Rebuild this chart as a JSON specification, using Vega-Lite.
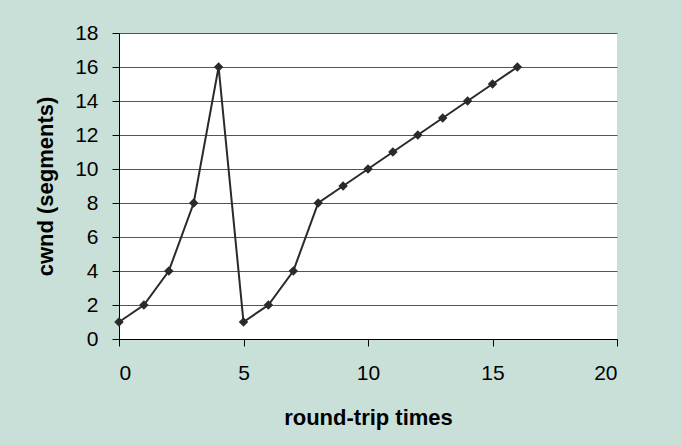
{
  "$schema": "https://vega.github.io/schema/vega-lite/v6.json",
  "width": 498,
  "height": 306,
  "autosize": {"type": "none"},
  "padding": {"left": 119, "top": 33, "right": 64, "bottom": 106},
  "background": "#c9e0d9",
  "config": {
    "view": {"stroke": null, "fill": "white"},
    "font": "Liberation Sans",
    "axis": {
      "labelFont": "Liberation Sans",
      "titleFont": "Liberation Sans",
      "labelFontSize": 21,
      "labelColor": "#000",
      "titleFontSize": 22,
      "titleFontWeight": "bold",
      "titleColor": "#000",
      "domainColor": "#000",
      "tickColor": "#000",
      "tickSize": 7,
      "gridColor": "#555",
      "gridOpacity": 1
    }
  },
  "data": {
    "values": [
      {"t": 0, "cwnd": 1}, {"t": 1, "cwnd": 2}, {"t": 2, "cwnd": 4}, {"t": 3, "cwnd": 8},
      {"t": 4, "cwnd": 16}, {"t": 5, "cwnd": 1}, {"t": 6, "cwnd": 2}, {"t": 7, "cwnd": 4},
      {"t": 8, "cwnd": 8}, {"t": 9, "cwnd": 9}, {"t": 10, "cwnd": 10}, {"t": 11, "cwnd": 11},
      {"t": 12, "cwnd": 12}, {"t": 13, "cwnd": 13}, {"t": 14, "cwnd": 14}, {"t": 15, "cwnd": 15},
      {"t": 16, "cwnd": 16}
    ]
  },
  "mark": {
    "type": "line",
    "color": "#2a2a2a",
    "strokeWidth": 2,
    "point": {"shape": "diamond", "size": 90, "filled": true, "color": "#2a2a2a", "opacity": 1}
  },
  "encoding": {
    "x": {
      "field": "t", "type": "quantitative", "title": "round-trip times",
      "scale": {"domain": [0, 20], "nice": false},
      "axis": {"values": [0, 5, 10, 15, 20], "grid": false, "labelPadding": 16, "titlePadding": 24}
    },
    "y": {
      "field": "cwnd", "type": "quantitative", "title": "cwnd (segments)",
      "scale": {"domain": [0, 18], "nice": false},
      "axis": {"values": [0, 2, 4, 6, 8, 10, 12, 14, 16, 18], "grid": true, "labelPadding": 14, "titlePadding": 17}
    }
  }
}
